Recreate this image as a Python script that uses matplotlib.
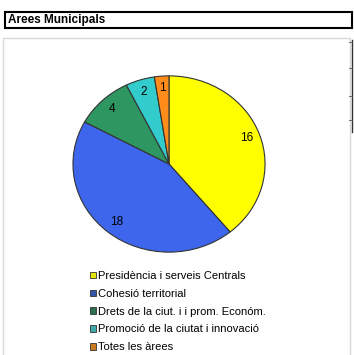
import matplotlib.pyplot as plt
from matplotlib.patches import Rectangle, Patch
from matplotlib.lines import Line2D

plt.rcParams['font.family'] = ['Liberation Sans', 'DejaVu Sans']

TITLE = "Arees Municipals"
areas = ["Presidència i serveis Centrals", "Cohesió territorial",
         "Drets de la ciut. i i prom. Económ.",
         "Promoció de la ciutat i innovació", "Totes les àrees"]
counts = [16, 18, 4, 2, 1]
colors = ["#ffff00", "#3d66ec", "#2e9660", "#33cccc", "#ff8c1a"]
legend_colors = ["#e6e600", "#3355aa", "#2a7050", "#40aaaa", "#cc7a20"]

W, H = 354, 355
fig = plt.figure(figsize=(W / 100, H / 100), dpi=100)

# title box
fig.patches.append(Rectangle((5 / W, 1 - 28 / H), 347 / W, 16 / H, transform=fig.transFigure,
                             fill=False, edgecolor="black", linewidth=1.5))
fig.text(8 / W, 1 - 20 / H, TITLE, fontsize=8.5, fontweight="bold", va="center", ha="left")

# chart area frame
fig.patches.append(Rectangle((3 / W, -0.05), 347 / W, 1 - 38 / H + 0.05, transform=fig.transFigure,
                             fill=False, edgecolor="#d8d8d8", linewidth=1))
# sheet edge on the right
fig.lines.append(Line2D([352 / W, 352 / W], [1 - 40 / H, 1 - 132 / H], transform=fig.transFigure,
                        color="#333333", linewidth=1))
for yy in [42, 68, 96, 120]:
    fig.lines.append(Line2D([349 / W, 352 / W], [1 - yy / H, 1 - yy / H], transform=fig.transFigure,
                            color="#555555", linewidth=0.6))

ax = fig.add_axes([72 / W, 1 - 253 / H, 194 / W, 178 / H])
wedges, texts = ax.pie(counts, colors=colors, startangle=90, counterclock=False,
                       wedgeprops=dict(edgecolor="#333333", linewidth=0.8),
                       labels=[str(c) for c in counts], labeldistance=0.86,
                       textprops=dict(fontsize=8.5, ha="center", va="center"))
ax.set_xlim(-1.01, 1.01)
ax.set_ylim(-1.01, 1.01)
ax.set_aspect("auto")
ax.axis("off")

handles = [Patch(facecolor=legend_colors[i], edgecolor="#333333", linewidth=0.6) for i in range(len(areas))]
fig.legend(handles, areas, loc="upper left", bbox_to_anchor=(90 / W, 1 - 271 / H),
           frameon=False, fontsize=8, handlelength=0.55, handleheight=0.55,
           handletextpad=0.2, labelspacing=0.7, borderpad=0, borderaxespad=0)

fig.savefig("out.png", dpi=100)
